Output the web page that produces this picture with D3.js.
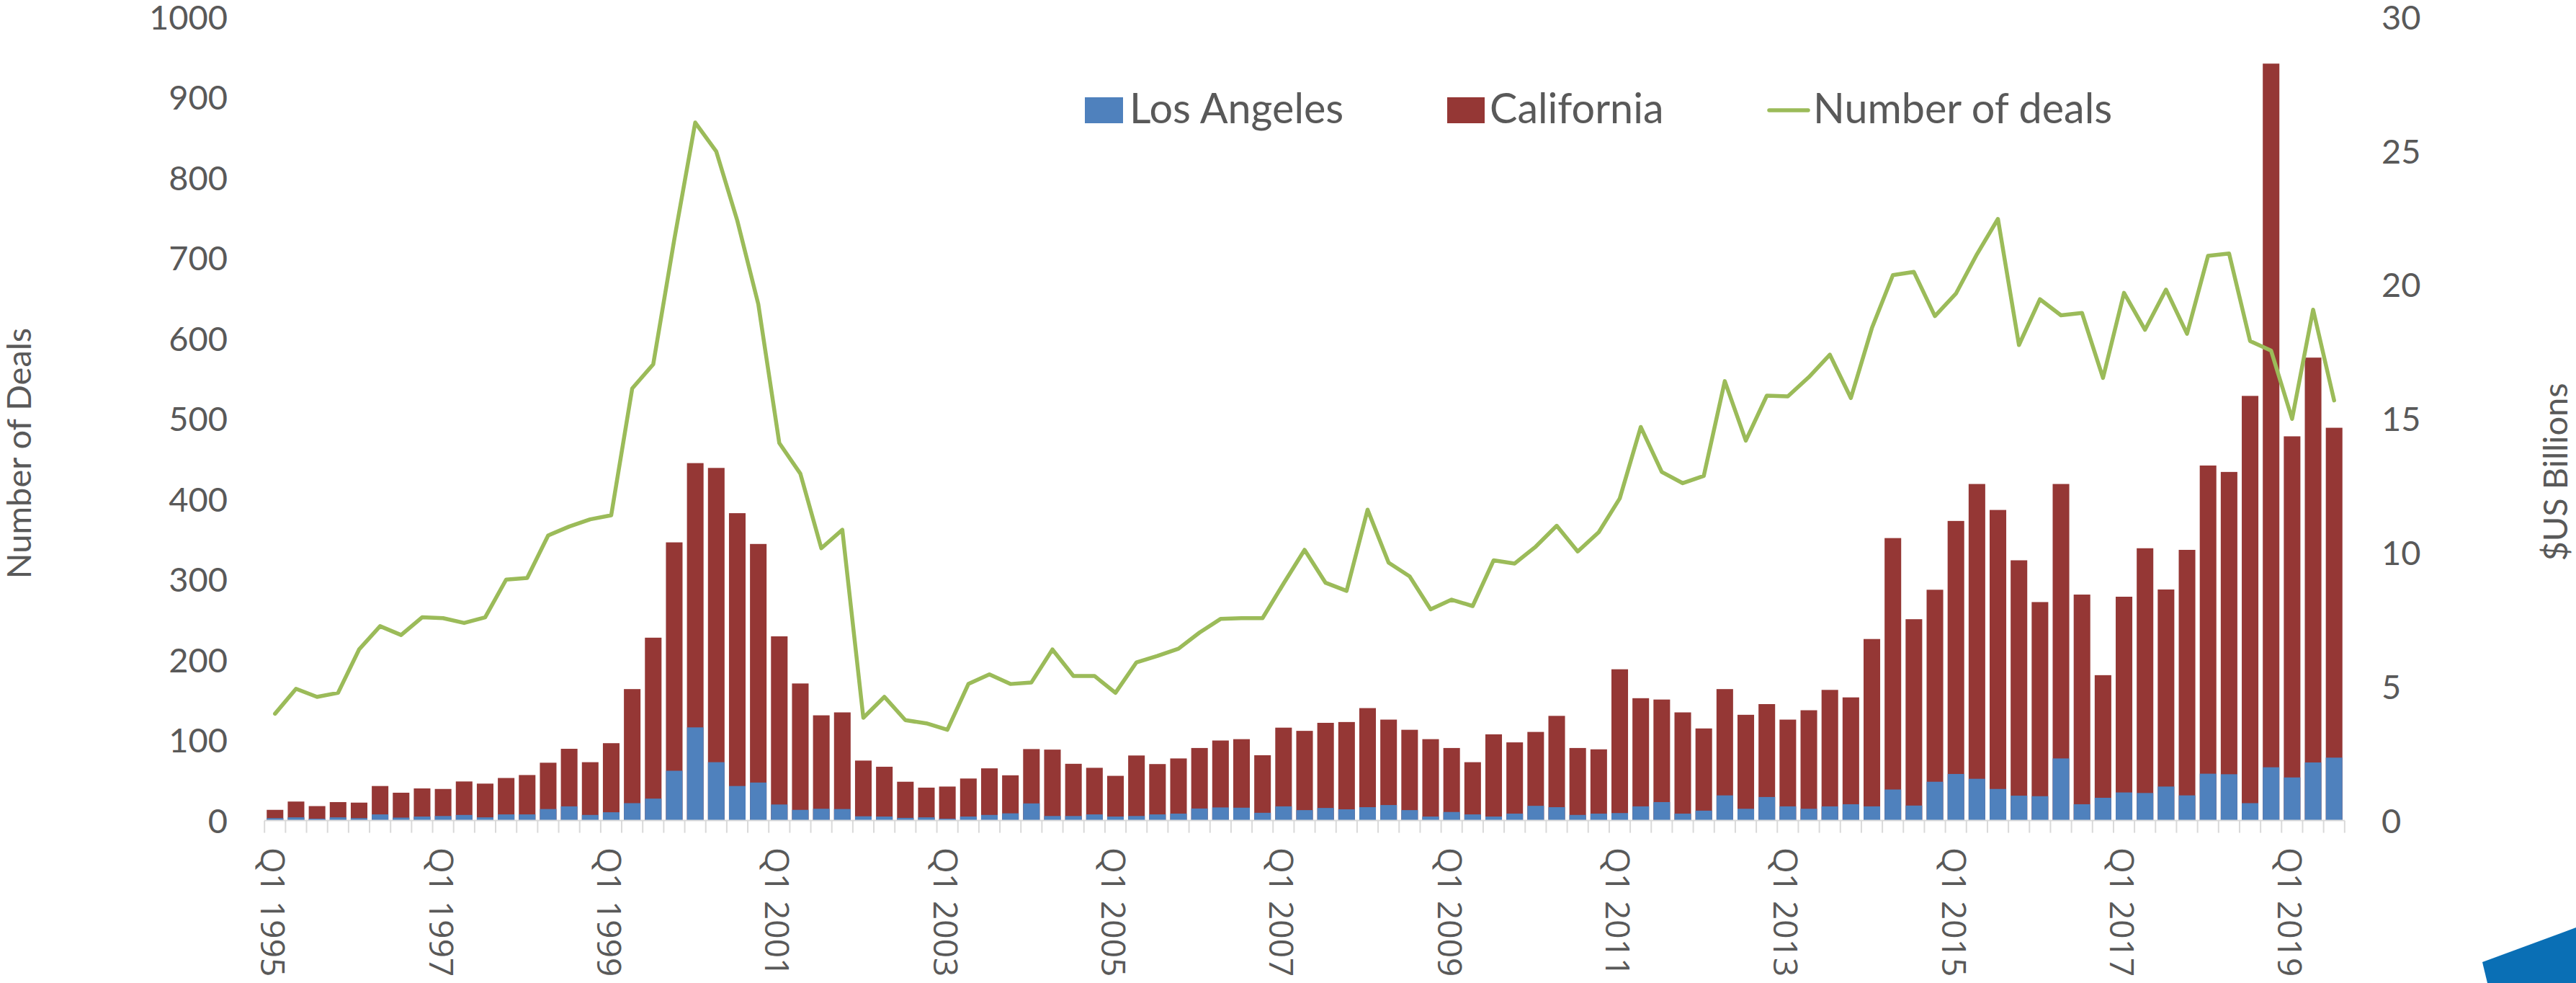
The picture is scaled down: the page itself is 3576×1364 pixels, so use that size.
<!DOCTYPE html>
<html>
<head>
<meta charset="utf-8">
<script src="https://cdn.jsdelivr.net/npm/d3@7"></script>
<style>
  html, body { margin: 0; padding: 0; background: #ffffff; }
  svg { display: block; overflow: visible; }
</style>
</head>
<body>
<svg id="chart" width="3576" height="1364"></svg>
<script>
// ---------- DATA ----------
const years = d3.range(1995, 2020);
const categories = [];
years.forEach(y => { for (let q = 1; q <= 4; q++) { if (y === 2019 && q === 4) continue; categories.push("Q" + q + " " + y); } });

const tickLabels = ["Q1 1995","Q1 1997","Q1 1999","Q1 2001","Q1 2003","Q1 2005","Q1 2007",
                    "Q1 2009","Q1 2011","Q1 2013","Q1 2015","Q1 2017","Q1 2019"];

// $US Billions - Los Angeles
const losAngeles = [
  0.09,0.12,0.07,0.12, 0.09,0.23,0.11,0.15, 0.17,0.21,0.12,0.23, 0.23,0.43,0.53,0.21,
  0.31,0.65,0.82,1.86, 3.48,2.18,1.29,1.42, 0.60,0.40,0.44,0.43, 0.16,0.15,0.10,0.12,
  0.07,0.15,0.21,0.27, 0.64,0.17,0.17,0.23, 0.15,0.17,0.23,0.26, 0.45,0.49,0.48,0.29,
  0.53,0.39,0.47,0.42, 0.50,0.58,0.39,0.15, 0.32,0.23,0.15,0.26, 0.55,0.50,0.21,0.26,
  0.28,0.53,0.69,0.26, 0.37,0.94,0.44,0.88, 0.53,0.44,0.53,0.61, 0.53,1.16,0.56,1.45,
  1.74,1.56,1.18,0.93, 0.91,2.32,0.61,0.85, 1.05,1.03,1.27,0.94, 1.75,1.73,0.65,1.99,
  1.61,2.17,2.35
];

// $US Billions - California
const california = [
  0.40,0.71,0.54,0.69, 0.67,1.29,1.04,1.20, 1.18,1.46,1.38,1.59, 1.70,2.16,2.68,2.18,
  2.89,4.91,6.83,10.39, 13.35,13.17,11.48,10.33, 6.88,5.12,3.93,4.04, 2.24,2.01,1.45,1.23,
  1.27,1.57,1.95,1.69, 2.67,2.65,2.12,1.97, 1.67,2.43,2.11,2.32, 2.71,2.99,3.04,2.44,
  3.47,3.35,3.65,3.68, 4.20,3.77,3.39,3.04, 2.71,2.18,3.22,2.92, 3.31,3.91,2.71,2.66,
  5.65,4.57,4.52,4.04, 3.44,4.91,3.95,4.35, 3.77,4.12,4.88,4.60, 6.78,10.55,7.52,8.62,
  11.19,12.57,11.60,9.72, 8.16,12.57,8.44,5.43, 8.36,10.17,8.63,10.11, 13.26,13.02,15.86,28.27,
  14.35,17.29,14.67
];

// Number of deals
const numberOfDeals = [
  133,164,154,159, 213,242,231,253, 252,246,253,300, 302,355,366,375,
  380,538,568,723, 869,833,747,643, 470,432,339,362, 128,154,125,121,
  113,170,182,170, 172,213,180,180, 159,197,205,214, 234,251,252,252,
  295,337,296,286, 387,321,304,263, 275,267,324,320, 341,367,335,359,
  401,490,434,420, 429,547,473,529, 528,552,580,526, 613,679,683,628,
  656,705,749,592, 649,629,632,551, 657,611,661,606, 703,706,597,585,
  500,636,523
];

const leftTicks = [0,100,200,300,400,500,600,700,800,900,1000];
const rightTicks = [0,5,10,15,20,25,30];

const seriesNames = ["Los Angeles", "California", "Number of deals"];
const colors = { la: "#4F81BD", ca: "#953735", deals: "#9BBB59", text: "#595959", axis: "#D9D9D9" };

// ---------- LAYOUT ----------
const plot = { left: 367.2, right: 3254.8, top: 24, bottom: 1138.6 };
const svg = d3.select("#chart");

const x = d3.scaleBand().domain(categories).range([plot.left, plot.right])
  .paddingInner(0.21).paddingOuter(0.105);
const yLeft = d3.scaleLinear().domain([0, 1000]).range([plot.bottom, plot.top]);
const yRight = d3.scaleLinear().domain([0, 30]).range([plot.bottom, plot.top]);
const step = x.step();
const boundary = i => plot.left + i * step;

// ---------- BARS ----------
const bars = svg.append("g");
bars.selectAll("rect.ca").data(categories).join("rect")
  .attr("class", "ca")
  .attr("x", d => x(d)).attr("width", x.bandwidth())
  .attr("y", (d, i) => yRight(california[i]))
  .attr("height", (d, i) => yRight(0) - yRight(california[i]))
  .attr("fill", colors.ca);
bars.selectAll("rect.la").data(categories).join("rect")
  .attr("class", "la")
  .attr("x", d => x(d)).attr("width", x.bandwidth())
  .attr("y", (d, i) => yRight(losAngeles[i]))
  .attr("height", (d, i) => yRight(0) - yRight(losAngeles[i]))
  .attr("fill", colors.la);

// ---------- X AXIS ----------
const xAxis = svg.append("g");
xAxis.append("line")
  .attr("x1", plot.left).attr("x2", plot.right)
  .attr("y1", plot.bottom).attr("y2", plot.bottom)
  .attr("stroke", colors.axis).attr("stroke-width", 2);
xAxis.selectAll("line.tick").data(d3.range(categories.length + 1)).join("line")
  .attr("class", "tick")
  .attr("x1", i => boundary(i)).attr("x2", i => boundary(i))
  .attr("y1", plot.bottom).attr("y2", plot.bottom + 17)
  .attr("stroke", colors.axis).attr("stroke-width", 2);
xAxis.selectAll("text").data(tickLabels).join("text")
  .attr("transform", d => `translate(${x(d) + x.bandwidth() / 2 - 3},${1176}) rotate(90)`)
  .attr("dy", "0.36em")
  .attr("font-family", "'Open Sans', sans-serif")
  .attr("font-size", 46)
  .attr("fill", colors.text)
  .text(d => d);

// ---------- Y AXES ----------
svg.append("g").selectAll("text").data(leftTicks).join("text")
  .attr("x", 316).attr("y", d => yLeft(d)).attr("dy", "0.36em")
  .attr("text-anchor", "end")
  .attr("font-family", "Lato, sans-serif").attr("font-size", 47)
  .attr("fill", colors.text).text(d => d);
svg.append("g").selectAll("text").data(rightTicks).join("text")
  .attr("x", 3306).attr("y", d => yRight(d)).attr("dy", "0.36em")
  .attr("text-anchor", "start")
  .attr("font-family", "Lato, sans-serif").attr("font-size", 47)
  .attr("fill", colors.text).text(d => d);

svg.append("text")
  .attr("transform", "translate(43,629) rotate(-90)")
  .attr("text-anchor", "middle")
  .attr("font-family", "Lato, sans-serif").attr("font-size", 47)
  .attr("fill", colors.text).text("Number of Deals");
svg.append("text")
  .attr("transform", "translate(3564,655) rotate(-90)")
  .attr("text-anchor", "middle")
  .attr("font-family", "Lato, sans-serif").attr("font-size", 47)
  .attr("fill", colors.text).text("$US Billions");

// ---------- LINE ----------
const line = d3.line()
  .x((d, i) => x(categories[i]) + x.bandwidth() / 2)
  .y(d => yLeft(d));
svg.append("path").datum(numberOfDeals)
  .attr("d", line)
  .attr("fill", "none").attr("stroke", colors.deals)
  .attr("stroke-width", 5.5).attr("stroke-linejoin", "round").attr("stroke-linecap", "round");

// ---------- LEGEND ----------
const legend = svg.append("g").attr("font-family", "Lato, sans-serif").attr("font-size", 57.5).attr("fill", colors.text);
legend.append("rect").attr("x", 1506).attr("y", 135).attr("width", 53).attr("height", 36).attr("fill", colors.la);
legend.append("text").attr("x", 1568).attr("y", 171).text(seriesNames[0]);
legend.append("rect").attr("x", 2009).attr("y", 135).attr("width", 52).attr("height", 36).attr("fill", colors.ca);
legend.append("text").attr("x", 2068).attr("y", 171).text(seriesNames[1]);
legend.append("line").attr("x1", 2456).attr("x2", 2510).attr("y1", 153).attr("y2", 153)
  .attr("stroke", colors.deals).attr("stroke-width", 5.5).attr("stroke-linecap", "round");
legend.append("text").attr("x", 2517).attr("y", 171).text(seriesNames[2]);

// ---------- CORNER DECORATION ----------
svg.append("path")
  .attr("d", "M3446,1335 L3576,1287 L3576,1364 L3453,1364 Z")
  .attr("fill", "#0A6FB5");
</script>
</body>
</html>
